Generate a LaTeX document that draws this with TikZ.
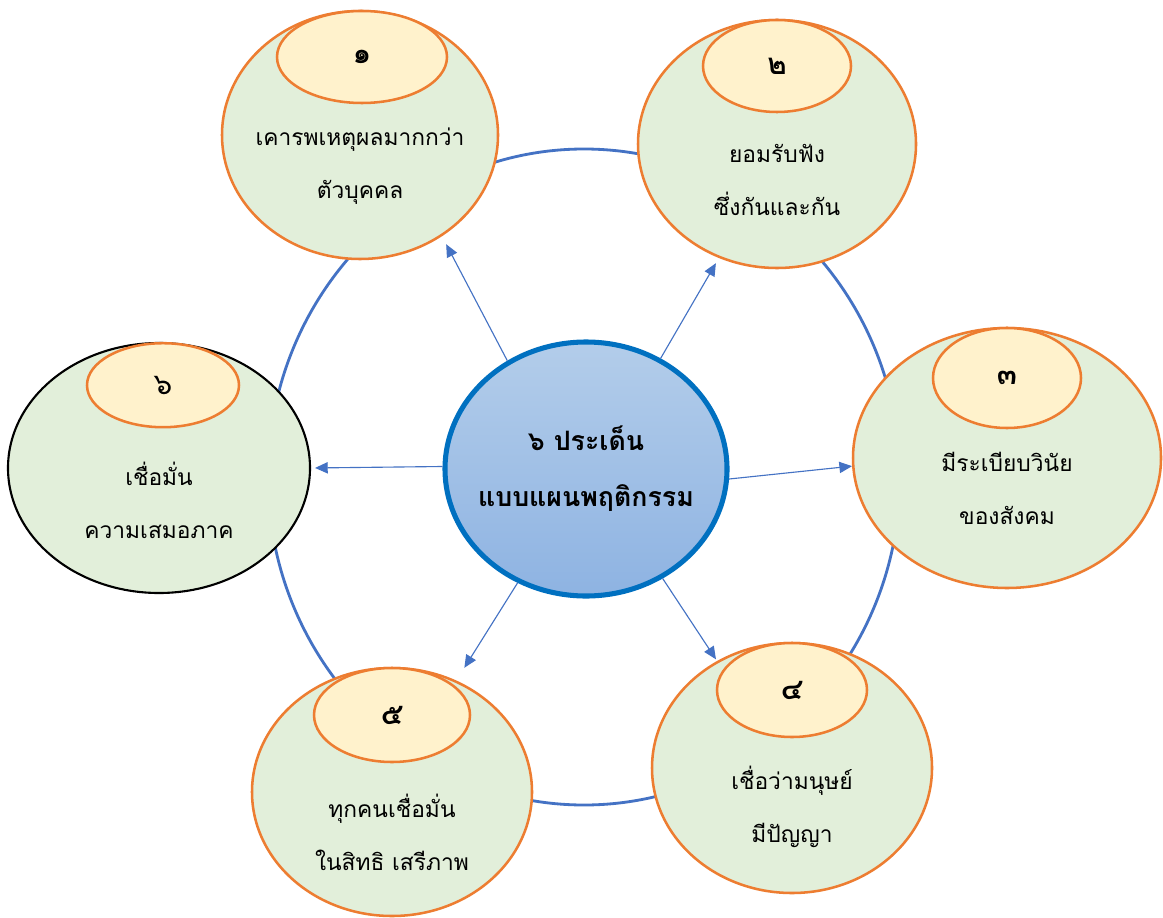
\documentclass[tikz,border=0pt]{standalone}
\usepackage{fontspec}
\setmainfont[Script=Thai]{Loma}
\usepackage{xcolor}
\usetikzlibrary{shapes,arrows.meta,positioning,calc}

\definecolor{ringblue}{HTML}{4472C4}
\definecolor{hubline}{HTML}{0070C0}
\definecolor{hubtop}{HTML}{B3CDEA}
\definecolor{hubbot}{HTML}{8EB3E2}
\definecolor{leaf}{HTML}{E2EFDA}
\definecolor{peach}{HTML}{FFF2CC}
\definecolor{edgeor}{HTML}{ED7D31}

\tikzset{
  topic/.style={ellipse, draw=edgeor, line width=1.8pt, fill=leaf},
  numbox/.style={ellipse, draw=edgeor, line width=1.8pt, fill=peach, anchor=north,
    font=\fontsize{21}{24}\selectfont\bfseries},
  txt/.style={align=center, font=\fontsize{16.2}{37.7}\selectfont},
  arr/.style={draw=ringblue, line width=0.8pt, -{Triangle[length=9pt,width=8pt]}}
}

\begin{document}
\begin{tikzpicture}
\useasboundingbox (0,0) rectangle (29.075,-22.925);
\fill[white] (0,0) rectangle (29.075,-22.925);
% big ring behind everything
\coordinate (mid) at (14.6,-11.925);
\draw[ringblue, line width=2pt] (mid) ellipse [x radius=7.9, y radius=8.2];

% centre
\node[ellipse, draw=hubline, line width=3.6pt, top color=hubtop, bottom color=hubbot,
  minimum width=7.05cm, minimum height=6.35cm] (hub) at (14.65,-11.725) {};
\node[align=center, font=\fontsize{19}{40}\selectfont\bfseries] (hubtxt) at (hub.center) {๖ ประเด็น\\แบบแผนพฤติกรรม};

% six topics
\node[topic, minimum width=6.9cm, minimum height=6.2cm] (p1) at (9.0,-3.375) {};
\node[topic, minimum width=6.95cm, minimum height=6.2cm] (p2) at (19.425,-3.6) {};
\node[topic, minimum width=7.7cm, minimum height=6.5cm] (p3) at (25.175,-11.45) {};
\node[topic, minimum width=7.0cm, minimum height=6.25cm] (p4) at (19.8,-19.2) {};
\node[topic, minimum width=7.0cm, minimum height=6.2cm] (p5) at (9.8,-19.8) {};
\node[topic, draw=black, line width=1.5pt, minimum width=7.55cm, minimum height=6.25cm] (p6) at (3.975,-11.7) {};

% numbers
\node[numbox, minimum width=4.25cm, minimum height=2.3cm] (n1) at ([xshift=0.05cm]p1.north) {๑};
\node[numbox, minimum width=3.7cm, minimum height=2.3cm] (n2) at (p2.north) {๒};
\node[numbox, minimum width=3.7cm, minimum height=2.5cm] (n3) at (p3.north) {๓};
\node[numbox, minimum width=3.75cm, minimum height=2.35cm] (n4) at (p4.north) {๔};
\node[numbox, minimum width=3.9cm, minimum height=2.35cm] (n5) at (p5.north) {๕};
\node[numbox, minimum width=3.8cm, minimum height=2.1cm, font=\fontsize{21}{24}\selectfont] (n6) at ([xshift=0.1cm]p6.north) {๖};

% texts
\node[txt] (t1) at ([yshift=-0.79cm]p1.center) {เคารพเหตุผลมากกว่า\\ตัวบุคคล};
\node[txt] (t2) at ([yshift=-0.9cm]p2.center) {ยอมรับฟัง\\ซึ่งกันและกัน};
\node[txt] (t3) at ([yshift=-0.75cm]p3.center) {มีระเบียบวินัย\\ของสังคม};
\node[txt] (t4) at ([yshift=-0.96cm]p4.center) {เชื่อว่ามนุษย์\\มีปัญญา};
\node[txt] (t5) at ([yshift=-1.0cm]p5.center) {ทุกคนเชื่อมั่น\\ในสิทธิ เสรีภาพ};
\node[txt] (t6) at ([yshift=-0.8cm]p6.center) {เชื่อมั่น\\ความเสมอภาค};

% arrows
\draw[arr, shorten >=0.225cm] (hub.126) -- (p1.-51);
\draw[arr, shorten >=0.15cm] (hub.56) -- (p2.-117);
\draw[arr] (hub.-4) -- (p3.183);
\draw[arr, shorten >=0.05cm] (hub.-55) -- (p4.125);
\draw[arr, shorten >=0.375cm] (hub.-121) -- (p5.60);
\draw[arr, shorten >=0.1cm] (hub.179) -- (p6.0);
\end{tikzpicture}
\end{document}
